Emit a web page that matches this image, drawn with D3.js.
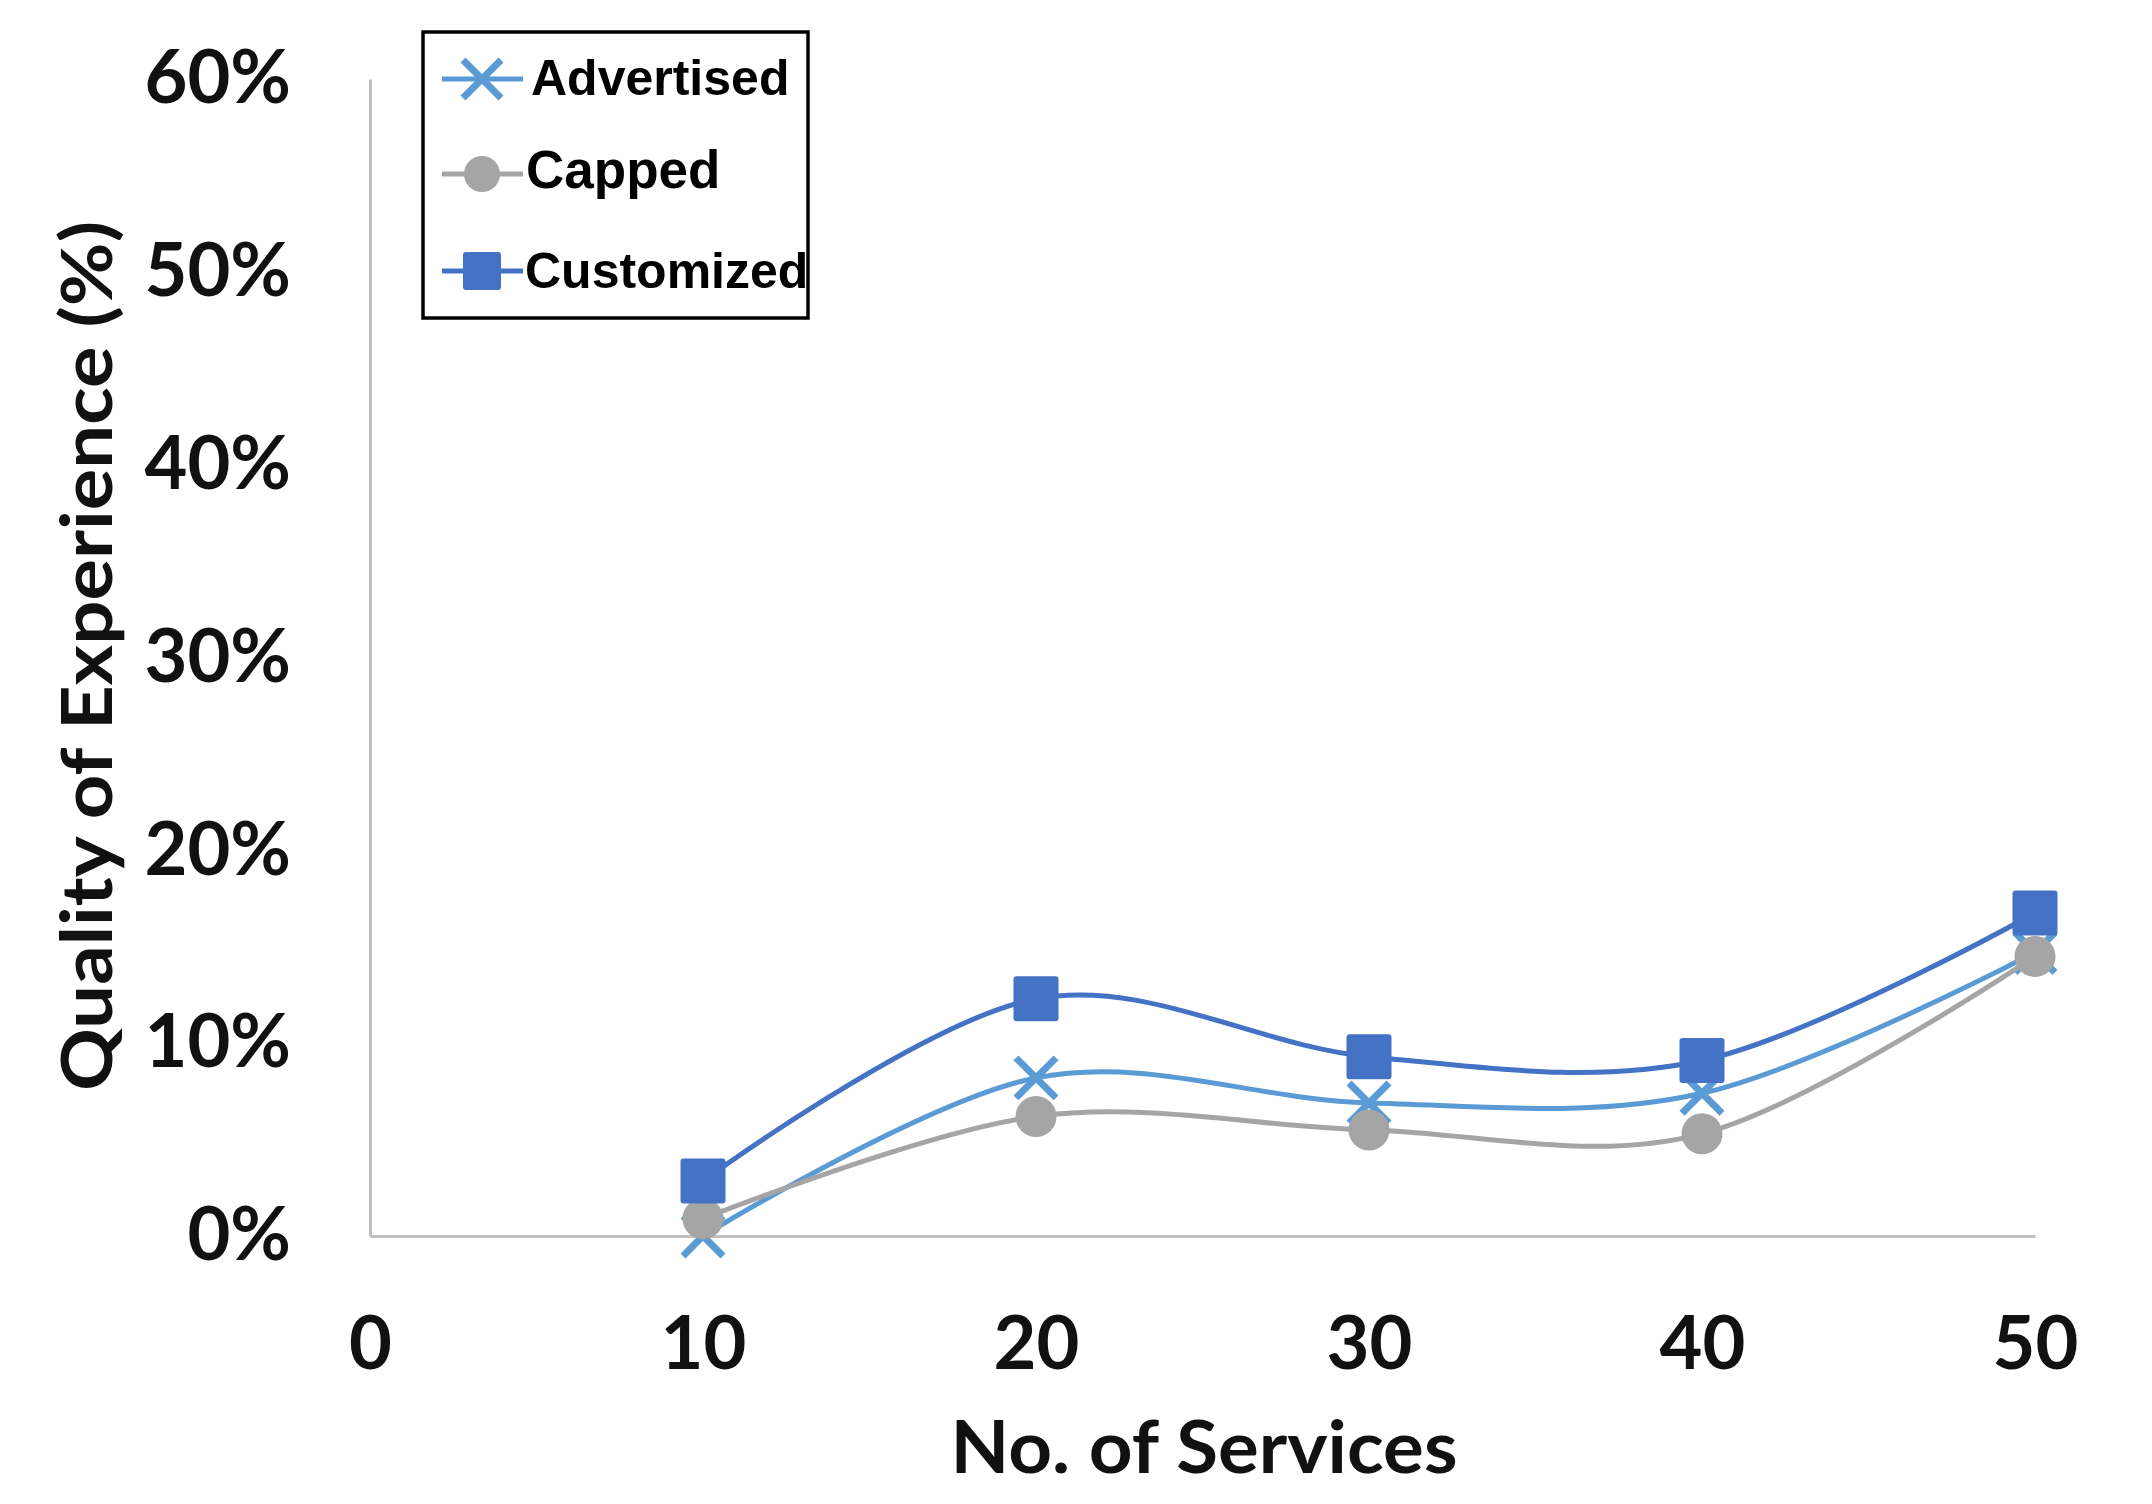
<!DOCTYPE html>
<html><head><meta charset="utf-8">
<script src="https://cdn.jsdelivr.net/npm/d3@7"></script>
<style>body{margin:0;background:#fff}svg{display:block}</style>
</head><body>
<svg id="chart" width="2152" height="1504"></svg>
<script>
// ---- data ----
const services = [10, 20, 30, 40, 50];
const xTickValues = [0, 10, 20, 30, 40, 50];
const yTickValues = [0, 10, 20, 30, 40, 50, 60];
const advertised = [0.0, 8.2, 6.9, 7.4, 14.7];
const capped = [0.9, 6.2, 5.5, 5.3, 14.5];
const customized = [2.85, 12.3, 9.3, 9.1, 16.75];
const seriesNames = ["Advertised", "Capped", "Customized"];
const xTitle = "No. of Services";
const yTitle = "Quality of Experience (%)";

// ---- setup ----
const svg = d3.select("#chart");
const m = {left: 370, right: 2035, top: 79, bottom: 1236};
const x = d3.scaleLinear().domain([0, 50]).range([m.left, m.right]);
const y = d3.scaleLinear().domain([0, 60]).range([m.bottom, m.top]);
const colors = {Advertised: "#5B9BD5", Capped: "#A5A5A5", Customized: "#4472C4"};
const tickFont = "Lato, 'Open Sans', sans-serif";

svg.append("rect").attr("width", 2152).attr("height", 1504).attr("fill", "#fff");

// axes
const gy = svg.append("g").attr("transform", `translate(${m.left},0)`)
  .call(d3.axisLeft(y).tickValues(yTickValues).tickSize(0).tickPadding(79).tickFormat(d => d + "%"));
const gx = svg.append("g").attr("transform", `translate(0,${m.bottom})`)
  .call(d3.axisBottom(x).tickValues(xTickValues).tickSize(0).tickPadding(80).tickFormat(d3.format("d")));
[gx, gy].forEach(g => {
  g.select(".domain").attr("stroke", "#BFBFBF").attr("stroke-width", 3);
  g.selectAll("text").attr("font-family", tickFont).attr("font-weight", 700)
    .attr("font-size", 74).attr("fill", "#111");
});

// titles
svg.append("text").attr("x", 1204).attr("y", 1473).attr("text-anchor", "middle")
  .attr("font-family", tickFont).attr("font-weight", 700).attr("font-size", 72).attr("fill", "#111")
  .attr("textLength", 507).attr("lengthAdjust", "spacingAndGlyphs")
  .text(xTitle);
svg.append("text").attr("transform", "translate(112,656) rotate(-90)").attr("text-anchor", "middle")
  .attr("font-family", tickFont).attr("font-weight", 700).attr("font-size", 70).attr("fill", "#111")
  .attr("textLength", 870).attr("lengthAdjust", "spacingAndGlyphs")
  .text(yTitle);

// series
const series = [
  {name: "Advertised", values: advertised},
  {name: "Capped", values: capped},
  {name: "Customized", values: customized}
];
const line = d3.line().x((d, i) => x(services[i])).y(d => y(d)).curve(d3.curveCardinal.tension(0));

function drawMarker(g, name, cx, cy, s) {
  const c = colors[name];
  if (name === "Advertised") {
    const h = s / 2;
    g.append("path").attr("d", `M${cx-h},${cy-h}L${cx+h},${cy+h}M${cx-h},${cy+h}L${cx+h},${cy-h}`)
      .attr("stroke", c).attr("stroke-width", 7).attr("fill", "none");
  } else if (name === "Capped") {
    g.append("circle").attr("cx", cx).attr("cy", cy).attr("r", s / 2).attr("fill", c);
  } else {
    g.append("rect").attr("x", cx - s / 2).attr("y", cy - s / 2).attr("width", s).attr("height", s)
      .attr("rx", 3).attr("fill", c);
  }
}
const markerSize = {Advertised: 40, Capped: 41, Customized: 45};

series.forEach(s => {
  const g = svg.append("g");
  g.append("path").datum(s.values).attr("d", line).attr("fill", "none")
    .attr("stroke", colors[s.name]).attr("stroke-width", 5);
  s.values.forEach((v, i) => drawMarker(g, s.name, x(services[i]), y(v), markerSize[s.name]));
});

// legend
const lg = svg.append("g");
lg.append("rect").attr("x", 423).attr("y", 32).attr("width", 385).attr("height", 286)
  .attr("fill", "#fff").attr("stroke", "#000").attr("stroke-width", 3.5);
const rowY = [79, 174, 271];
const textX = [531, 526, 525];
const textBase = [95, 188, 288];
const textSize = [50, 53, 50];
seriesNames.forEach((n, i) => {
  const g = lg.append("g");
  g.append("line").attr("x1", 442).attr("x2", 523).attr("y1", rowY[i]).attr("y2", rowY[i])
    .attr("stroke", colors[n]).attr("stroke-width", 5);
  drawMarker(g, n, 482, rowY[i], n === "Capped" ? 36 : 38);
  g.append("text").attr("x", textX[i]).attr("y", textBase[i])
    .attr("font-family", "'Liberation Sans', Arial, sans-serif").attr("font-weight", 700)
    .attr("font-size", textSize[i]).attr("fill", "#000").text(n);
});
</script>
</body></html>
